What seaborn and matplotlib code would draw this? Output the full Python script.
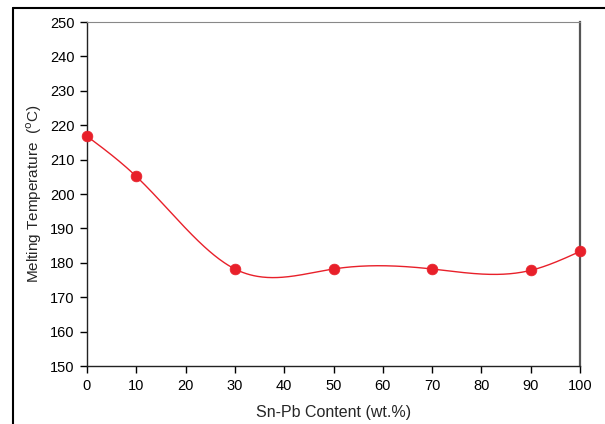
import numpy as np
import pandas as pd
import matplotlib
matplotlib.use("Agg")
import matplotlib.pyplot as plt
from matplotlib.lines import Line2D
import seaborn as sns

content = [0, 10, 30, 50, 70, 90, 100]
melting_temp = [216.8, 205.1, 178.2, 178.2, 178.2, 177.8, 183.3]
x_ticks = [0, 10, 20, 30, 40, 50, 60, 70, 80, 90, 100]
y_ticks = [150, 160, 170, 180, 190, 200, 210, 220, 230, 240, 250]


def natural_spline(x, y, xs):
    x = np.asarray(x, float)
    y = np.asarray(y, float)
    n = len(x)
    h = np.diff(x)
    A = np.zeros((n, n))
    r = np.zeros(n)
    A[0, 0] = A[-1, -1] = 1.0
    for i in range(1, n - 1):
        A[i, i - 1] = h[i - 1]
        A[i, i] = 2 * (h[i - 1] + h[i])
        A[i, i + 1] = h[i]
        r[i] = 3 * ((y[i + 1] - y[i]) / h[i] - (y[i] - y[i - 1]) / h[i - 1])
    c = np.linalg.solve(A, r)
    b = (np.diff(y) / h) - h * (2 * c[:-1] + c[1:]) / 3
    d = np.diff(c) / (3 * h)
    idx = np.clip(np.searchsorted(x, xs) - 1, 0, n - 2)
    dx = xs - x[idx]
    return y[idx] + b[idx] * dx + c[idx] * dx ** 2 + d[idx] * dx ** 3


sns.set_theme(style="white")
plt.rcParams["font.family"] = ["Liberation Sans", "DejaVu Sans"]

fig = plt.figure(figsize=(6.05, 4.24), dpi=100)
ax = fig.add_axes([87 / 605, 1 - 366 / 424, (580 - 87) / 605, (366 - 22) / 424])

xs = np.linspace(0, 100, 400)
curve = pd.DataFrame({"x": xs, "y": natural_spline(content, melting_temp, xs)})
pts = pd.DataFrame({"x": content, "y": melting_temp})

sns.lineplot(data=curve, x="x", y="y", ax=ax, color="#e8202a", linewidth=1.0)
sns.scatterplot(data=pts, x="x", y="y", ax=ax, color="#e8202a", s=60,
                edgecolor="#e8202a", linewidth=0.5, zorder=5, clip_on=False)

ax.set_xlim(0, 100)
ax.set_ylim(150, 250)
ax.set_xticks(x_ticks)
ax.set_yticks(y_ticks)
ax.tick_params(axis="both", direction="out", length=5, width=1, color="black",
               labelsize=10.5, labelcolor="black", pad=4, bottom=True, left=True)
for side in ["left", "bottom"]:
    ax.spines[side].set_color("#222222")
    ax.spines[side].set_linewidth(1.0)
ax.spines["top"].set_color("#888888")
ax.spines["top"].set_linewidth(0.8)
ax.spines["right"].set_color("#555555")
ax.spines["right"].set_linewidth(1.6)

ax.set_xlabel("Sn-Pb Content (wt.%)", fontsize=11.5, labelpad=9)
ax.set_ylabel("Melting Temperature  ($^{\\mathrm{o}}$C)", fontsize=11, labelpad=4)

# outer frame edges
fig.add_artist(Line2D([13 / 605, 1.0], [1 - 8 / 424, 1 - 8 / 424],
                      transform=fig.transFigure, color="black", linewidth=1.5))
fig.add_artist(Line2D([13 / 605, 13 / 605], [0.0, 1 - 8 / 424],
                      transform=fig.transFigure, color="black", linewidth=1.5))

fig.savefig("out.png", dpi=100)
